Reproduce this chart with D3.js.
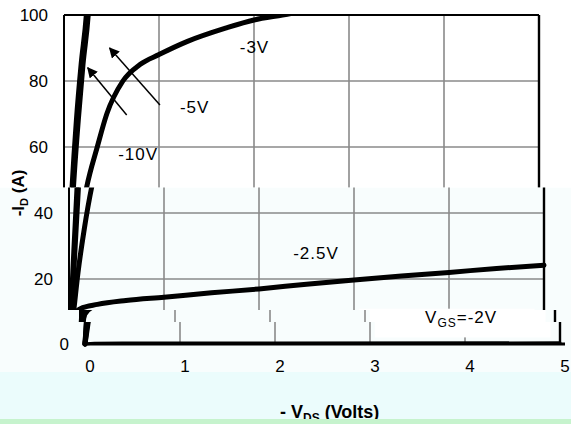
<!DOCTYPE html>
<html>
<head>
<meta charset="utf-8">
<script src="https://cdn.jsdelivr.net/npm/d3@7/dist/d3.min.js"></script>
<style>
  html, body { margin: 0; padding: 0; background: #ffffff; }
  svg { display: block; }
  text { font-family: "Liberation Sans", Arial, sans-serif; fill: #000; }
</style>
</head>
<body>
<svg id="chart" width="571" height="424"></svg>
<script>
// ---- data ----
const xTicks = [0, 1, 2, 3, 4, 5];
const yTicks = [0, 20, 40, 60, 80, 100];
const xLabel = "- V";
const xLabelSub = "DS";
const xLabelTail = " (Volts)";
const yLabel = "-I";
const yLabelSub = "D";
const yLabelTail = " (A)";

// -ID (A) versus -VDS (V) for each gate voltage
const vgsNames = ["-10V", "-5V", "-3V", "-2.5V", "-2V"];
const curve10 = [[0,0],[0.02,10],[0.04,22],[0.085,48],[0.13,68],[0.18,85],[0.235,100],[0.24,102]];
const curve5  = [[0,0],[0.025,10],[0.05,22],[0.1,48],[0.15,68],[0.2,85],[0.255,100],[0.26,102]];
const curve3  = [[0,0],[0.04,8],[0.095,22],[0.16,35],[0.24,48],[0.35,60],[0.45,70],[0.62,80],[0.8,85],[1.0,88],[1.3,92],[1.7,96],[2.0,98.5],[2.3,100],[2.4,100.5]];
const curve25 = [[0,0],[0.02,5],[0.05,9],[0.12,11],[0.3,12.3],[0.6,13.5],[1,14.5],[1.5,15.8],[2,17],[2.5,18.4],[3,19.7],[3.5,20.9],[4,22],[4.5,23.2],[5,24.2]];
const curve2  = [[0,0],[0.1,0.2],[0.5,0.3],[2,0.3],[5,0.35]];
const curves = [curve10, curve5, curve3, curve25, curve2];

// curve label positions (V, I), same order as vgsNames
const labelV = [0.57, 1.22, 1.85, 2.36, 3.58];
const labelI = [56, 70.3, 88.5, 26, 6.4];
// white box behind the VGS label (V range, I range)
const labelBoxV = [3.05, 4.9];
const labelBoxI = [2, 11];
// arrows: from (V,I) to (V,I)
const arrowFromV = [1.01, 0.66];
const arrowFromI = [72.7, 69.7];
const arrowToV   = [0.48, 0.25];
const arrowToI   = [90, 84];

// ---- layout ----
const svg = d3.select("#chart");
const x = d3.scaleLinear().domain([0, 5]).range([64, 539]);
const y = d3.scaleLinear().domain([0, 100]).range([345, 15]);

const defs = svg.append("defs");
defs.append("clipPath").attr("id", "plotclip")
  .append("rect")
  .attr("x", x(0) - 4).attr("y", y(100) - 1)
  .attr("width", x(5) - x(0) + 7).attr("height", y(0) - y(100) + 4);
defs.append("marker").attr("id", "arrowhead")
  .attr("viewBox", "0 0 10 10").attr("refX", 9).attr("refY", 5)
  .attr("markerWidth", 7).attr("markerHeight", 7).attr("orient", "auto")
  .attr("markerUnits", "strokeWidth")
  .append("path").attr("d", "M0,0 L10,5 L0,10 Z").attr("fill", "#000");

// the picture is made of horizontal bands, each shifted slightly
const bands = [
  { y0: 0,     y1: 187.5, dx: 0,  dy: 0,  bg: "#ffffff" },
  { y0: 187.5, y1: 310,   dx: 5,  dy: 0,  bg: "#f8fdfd" },
  { y0: 310,   y1: 322,   dx: 16, dy: -1, bg: "#f8fdfd" },
  { y0: 322,   y1: 372,   dx: 21, dy: -1, bg: "#f8fdfd" }
];
const inBand = (b, yy) => yy >= b.y0 && yy < b.y1;

function drawMarks(g) {
  // gridlines
  g.append("g").selectAll("line").data(xTicks.slice(1, -1)).join("line")
    .attr("x1", d => x(d)).attr("x2", d => x(d))
    .attr("y1", y(100)).attr("y2", y(0))
    .attr("stroke", "#8a8a8a").attr("stroke-width", 1.6);
  g.append("g").selectAll("line").data(yTicks.slice(1, -1)).join("line")
    .attr("x1", x(0)).attr("x2", x(5))
    .attr("y1", d => y(d)).attr("y2", d => y(d))
    .attr("stroke", "#8a8a8a").attr("stroke-width", 1.6);
  // label box
  g.append("rect")
    .attr("x", x(labelBoxV[0])).attr("width", x(labelBoxV[1]) - x(labelBoxV[0]))
    .attr("y", y(labelBoxI[1])).attr("height", y(labelBoxI[0]) - y(labelBoxI[1]))
    .attr("fill", "#ffffff");
  // frame
  g.append("line").attr("x1", x(0)).attr("x2", x(5)).attr("y1", y(100)).attr("y2", y(100))
    .attr("stroke", "#000").attr("stroke-width", 2);
  g.append("line").attr("x1", x(0)).attr("x2", x(0)).attr("y1", y(100)).attr("y2", y(0))
    .attr("stroke", "#000").attr("stroke-width", 2);
  g.append("line").attr("x1", x(5)).attr("x2", x(5)).attr("y1", y(100)).attr("y2", y(0))
    .attr("stroke", "#000").attr("stroke-width", 2.4);
  g.append("line").attr("x1", x(0)).attr("x2", x(5) + 5).attr("y1", y(0)).attr("y2", y(0))
    .attr("stroke", "#000").attr("stroke-width", 3);

  // curves
  const line = d3.line().x(d => x(d[0])).y(d => y(d[1])).curve(d3.curveMonotoneX);
  g.append("g").attr("clip-path", "url(#plotclip)")
    .selectAll("path").data(curves).join("path")
    .attr("d", line).attr("fill", "none").attr("stroke", "#000")
    .attr("stroke-width", (d, i) => i === 4 ? 3 : 5)
    .attr("stroke-linejoin", "round").attr("stroke-linecap", "round");

  // arrows
  g.append("g").selectAll("line").data(arrowFromV).join("line")
    .attr("x1", (d, i) => x(arrowFromV[i])).attr("y1", (d, i) => y(arrowFromI[i]))
    .attr("x2", (d, i) => x(arrowToV[i])).attr("y2", (d, i) => y(arrowToI[i]))
    .attr("stroke", "#000").attr("stroke-width", 1.5)
    .attr("marker-end", "url(#arrowhead)");
}

function drawTexts(g, b, k) {
  // curve labels
  const idx = vgsNames.map((d, i) => i).filter(i => inBand(b, y(labelI[i])));
  g.append("g").selectAll("text").data(idx).join("text")
    .attr("x", i => x(labelV[i])).attr("y", i => y(labelI[i]))
    .attr("font-size", 17).attr("letter-spacing", 1)
    .each(function(i) {
      const t = d3.select(this);
      if (i === 4) {
        t.append("tspan").text("V");
        t.append("tspan").attr("font-size", 12).attr("dy", 4).text("GS");
        t.append("tspan").attr("dy", -4).text("=" + vgsNames[i]);
      } else {
        t.text(vgsNames[i]);
      }
    });

  // y tick labels
  g.append("g").selectAll("text").data(yTicks.filter(d => inBand(b, y(d)))).join("text")
    .attr("x", x(0) - 16).attr("y", d => y(d)).attr("dy", "0.35em")
    .attr("text-anchor", "end").attr("font-size", 17).text(d => d);

  // x tick labels (bottom band)
  if (k === bands.length - 1) {
    g.append("g").selectAll("text").data(xTicks).join("text")
      .attr("x", d => x(d) + 5).attr("y", 373)
      .attr("text-anchor", "middle").attr("font-size", 17).text(d => d);
  }

  // y title (top band)
  if (k === 0) {
    const yt = g.append("text")
      .attr("transform", "translate(24,193) rotate(-90)")
      .attr("text-anchor", "middle").attr("font-size", 17).attr("font-weight", "bold");
    yt.append("tspan").text(yLabel);
    yt.append("tspan").attr("font-size", 11).attr("dy", 4).text(yLabelSub);
    yt.append("tspan").attr("dy", -4).text(yLabelTail);
  }
}

bands.forEach((b, k) => {
  defs.append("clipPath").attr("id", "band" + k)
    .append("rect").attr("x", 0).attr("y", b.y0).attr("width", 571).attr("height", b.y1 - b.y0);
  const bg = svg.append("g").attr("clip-path", "url(#band" + k + ")");
  bg.append("rect").attr("x", 0).attr("y", b.y0).attr("width", 571).attr("height", b.y1 - b.y0)
    .attr("fill", b.bg);
  drawMarks(bg.append("g").attr("transform", `translate(${b.dx},${b.dy})`));
});
bands.forEach((b, k) => {
  drawTexts(svg.append("g").attr("transform", `translate(${b.dx},${b.dy})`), b, k);
});

// bottom strip with x title
svg.append("rect").attr("x", 0).attr("y", 372).attr("width", 571).attr("height", 52).attr("fill", "#ebfcfc");
const xt = svg.append("text").attr("x", 280).attr("y", 418)
  .attr("font-size", 18).attr("font-weight", "bold");
xt.append("tspan").text(xLabel);
xt.append("tspan").attr("font-size", 12).attr("dy", 4).text(xLabelSub);
xt.append("tspan").attr("dy", -4).text(xLabelTail);
svg.append("rect").attr("x", 0).attr("y", 419).attr("width", 571).attr("height", 5).attr("fill", "#c6f3cd");
</script>
</body>
</html>
